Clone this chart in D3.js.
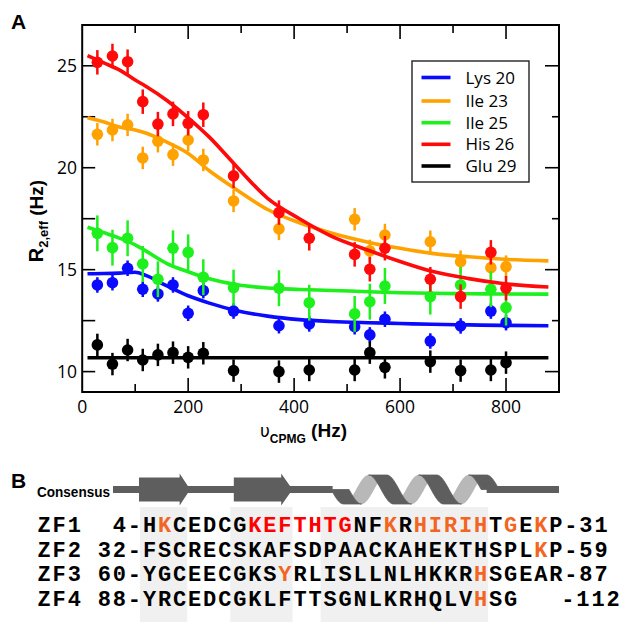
<!DOCTYPE html>
<html>
<head>
<meta charset="utf-8">
<script src="https://d3js.org/d3.v7.min.js"></script>
<style>
  body { margin: 0; background: #fff; }
  svg { display: block; }
</style>
</head>
<body>
<div id="fig"></div>
<script>

// CPMG frequencies (Hz)
var vcpmg = [28.6, 57.1, 85.7, 114.3, 142.9, 171.4, 200, 228.6, 285.7, 371.4,
  428.6, 514.3, 542.9, 571.4, 657.1, 714.3, 771.4, 800];

// measured R2,eff (Hz), null = no point
var lys20 = [14.25, 14.36, 15.07, 14.04, 13.81, 14.25, 12.86, 13.97, 12.97, 12.25,
  12.34, 12.2, 11.8, 12.57, 11.5, 12.24, 12.97, 12.4];
var ile23 = [21.64, 21.85, 22.1, 20.48, 21.3, 20.64, 21.36, 20.38, 18.37, 17.0,
  null, 17.47, 15.92, 16.7, 16.37, 15.39, 15.1, 15.15];
var ile25 = [16.78, 16.08, 16.54, 15.28, 14.53, 16.05, 15.85, 14.63, 14.12, 14.09,
  13.38, 12.83, 13.43, 14.2, 13.68, 14.25, 14.04, 13.14];
var his26 = [25.17, 25.48, 25.2, 23.24, 22.14, 22.64, 22.18, 22.6, 19.6, 17.8,
  16.54, 15.75, 15.02, 16.05, 14.53, 13.68, 15.85, 14.09];
var glu29 = [11.31, 10.37, 11.06, 10.57, 10.82, 10.93, 10.7, 10.9, 10.05, 10.0,
  10.08, 10.08, 10.93, 10.21, 10.49, 10.05, 10.08, 10.44];

// error bar half heights
var errs = [0.38, 0.55, 0.88, 0.6, 0.55];

// fitted curves
var fitHz = [10, 40, 70, 100, 120, 160, 200, 240, 290, 350, 410, 470, 540, 600, 660, 730, 790, 880];
var fitLys20 = [14.8, 14.81, 14.83, 14.87, 14.72, 14.2, 13.72, 13.36, 13.0, 12.72, 12.55, 12.46, 12.4, 12.36, 12.32, 12.29, 12.27, 12.25];
var fitIle23 = [22.45, 22.25, 22.0, 21.85, 21.7, 21.25, 20.7, 19.85, 18.95, 17.95, 17.3, 16.8, 16.35, 16.05, 15.8, 15.63, 15.52, 15.43];
var fitIle25 = [17.08, 16.82, 16.55, 16.22, 15.92, 15.3, 14.9, 14.55, 14.27, 14.1, 14.03, 13.98, 13.92, 13.87, 13.84, 13.82, 13.81, 13.8];
var fitHis26 = [25.5, 25.15, 24.8, 24.3, 24.0, 23.3, 22.45, 21.5, 20.1, 18.5, 17.5, 16.65, 15.95, 15.4, 14.92, 14.56, 14.33, 14.15];
var fitGlu29 = [10.68, 10.68, 10.68, 10.68, 10.68, 10.68, 10.68, 10.68, 10.68, 10.68, 10.68, 10.68, 10.68, 10.68, 10.68, 10.68, 10.68, 10.68];

var names = ["Lys 20", "Ile 23", "Ile 25", "His 26", "Glu 29"];
var colors = ["#0a0aff", "#ffa200", "#1ef01e", "#ff0a0a", "#000000"];

var xTicks = [0, 200, 400, 600, 800];
var xMinor = [100, 300, 500, 700];
var yTicks = [10, 15, 20, 25];
var yMinor = [12.5, 17.5, 22.5];

// panel B
var zfNames = ["ZF1", "ZF2", "ZF3", "ZF4"];
var zfStart = ["4", "32", "60", "88"];
var zfEnd = ["31", "59", "87", "112"];
var zfSeq = [
  "HKCEDCGKEFTHTGNFKRHIRIHTGEKP",
  "FSCRECSKAFSDPAACKAHEKTHSPLKP",
  "YGCEECGKSYRLISLLNLHKKRHSGEAR",
  "YRCEDCGKLFTTSGNLKRHQLVHSG"
];
var zfRed = [[7, 8, 9, 10, 11, 12, 13], [], [], []];
var zfOrange = [[1, 16, 18, 19, 20, 21, 22, 24, 26], [26], [9, 22], [22]];
var shadeCols = [[0, 2], [6, 9], [12, 22]];
var strands = [[-0.2, 2.5, 3.2], [6.1, 9.25, 10]];
var helixCols = [12, 22.9];

var width = 621;
var height = 622;

var svg = d3.select("#fig")
  .append("svg")
  .attr("width", width)
  .attr("height", height);

// plot box
var pLeft = 82.2, pRight = 559, pTop = 25, pBottom = 392;

var xScale = d3.scaleLinear().domain([0, 900]).range([pLeft, pRight]);
var yScale = d3.scaleLinear().domain([9, 27]).range([pBottom, pTop]);

var tickFont = "'Open Sans', 'Liberation Sans', sans-serif";
var boldFont = "'Liberation Sans', Arial, sans-serif";

// panel letters
svg.append("text").attr("x", 11).attr("y", 29)
  .attr("font-family", boldFont)
  .attr("font-weight", "bold").attr("font-size", 21).text("A");
svg.append("text").attr("x", 11).attr("y", 488)
  .attr("font-family", boldFont)
  .attr("font-weight", "bold").attr("font-size", 21).text("B");

// ticks (drawn inward on all four sides)
var tickG = svg.append("g").attr("stroke", "#000").attr("stroke-width", 1.6);
xTicks.concat(xMinor).forEach(function(v) {
  if (v === 0) return;
  var len = xTicks.indexOf(v) >= 0 ? 14 : 8;
  tickG.append("line").attr("x1", xScale(v)).attr("x2", xScale(v))
    .attr("y1", pBottom).attr("y2", pBottom - len);
  tickG.append("line").attr("x1", xScale(v)).attr("x2", xScale(v))
    .attr("y1", pTop).attr("y2", pTop + len);
});
yTicks.concat(yMinor).forEach(function(v) {
  var len = yTicks.indexOf(v) >= 0 ? 14 : 7;
  tickG.append("line").attr("x1", pLeft).attr("x2", pLeft + 13)
    .attr("y1", yScale(v)).attr("y2", yScale(v));
  tickG.append("line").attr("x1", pRight).attr("x2", pRight - len)
    .attr("y1", yScale(v)).attr("y2", yScale(v));
});

// tick labels
svg.append("g").selectAll("text").data(xTicks).enter()
  .append("text")
  .attr("x", function(d) { return xScale(d); })
  .attr("y", 413)
  .attr("text-anchor", "middle")
  .attr("font-family", tickFont).attr("font-size", 17.5)
  .text(function(d) { return d; });
svg.append("g").selectAll("text").data(yTicks).enter()
  .append("text")
  .attr("x", 77)
  .attr("y", function(d) { return yScale(d); })
  .attr("dy", "0.36em")
  .attr("text-anchor", "end")
  .attr("font-family", tickFont).attr("font-size", 17.5)
  .text(function(d) { return d; });

// axis titles
var yTitle = svg.append("text")
  .attr("transform", "translate(43,221) rotate(-90)")
  .attr("text-anchor", "middle")
  .attr("font-family", boldFont)
  .attr("font-weight", "bold");
yTitle.append("tspan").attr("font-size", 20).text("R");
yTitle.append("tspan").attr("font-size", 13).attr("dy", 5).text("2,eff");
yTitle.append("tspan").attr("font-size", 19).attr("dy", -5).text(" (Hz)");

var xTitle = svg.append("text")
  .attr("x", 260).attr("y", 437)
  .attr("font-family", boldFont);
xTitle.append("tspan").attr("font-size", 17).attr("font-family", "'DejaVu Sans', sans-serif").text("υ");
xTitle.append("tspan").attr("font-size", 12).attr("font-weight", "bold").attr("dy", 6).text("CPMG");
xTitle.append("tspan").attr("font-size", 19).attr("font-weight", "bold").attr("dy", -6).text(" (Hz)");

// data series
var series = [lys20, ile23, ile25, his26, glu29];
var fits = [fitLys20, fitIle23, fitIle25, fitHis26, fitGlu29];

var fitLine = d3.line()
  .x(function(d) { return xScale(d[0]); })
  .y(function(d) { return yScale(d[1]); })
  .curve(d3.curveMonotoneX);

var plotG = svg.append("g");

series.forEach(function(vals, s) {
  var pts = vals.map(function(v, i) { return [vcpmg[i], v]; })
    .filter(function(d) { return d[1] !== null; });

  plotG.append("path")
    .datum(fitHz.map(function(h, i) { return [h, fits[s][i]]; }))
    .attr("d", fitLine)
    .attr("fill", "none")
    .attr("stroke", colors[s])
    .attr("stroke-width", 3.6);

  var g = plotG.append("g");
  g.selectAll("line").data(pts).enter()
    .append("line")
    .attr("x1", function(d) { return xScale(d[0]); })
    .attr("x2", function(d) { return xScale(d[0]); })
    .attr("y1", function(d) { return yScale(d[1] - errs[s]); })
    .attr("y2", function(d) { return yScale(d[1] + errs[s]); })
    .attr("stroke", colors[s])
    .attr("stroke-width", 2.5);
  g.selectAll("circle").data(pts).enter()
    .append("circle")
    .attr("cx", function(d) { return xScale(d[0]); })
    .attr("cy", function(d) { return yScale(d[1]); })
    .attr("r", 5.8)
    .attr("fill", colors[s]);
});

// frame
svg.append("rect")
  .attr("x", pLeft).attr("y", pTop)
  .attr("width", pRight - pLeft).attr("height", pBottom - pTop)
  .attr("fill", "none").attr("stroke", "#000").attr("stroke-width", 2);

// legend
var legend = svg.append("g");
legend.append("rect")
  .attr("x", 412).attr("y", 61).attr("width", 117).attr("height", 121)
  .attr("fill", "#fff").attr("stroke", "#222").attr("stroke-width", 1.4);
var legY = [77.5, 101, 122.7, 144.3, 166];
names.forEach(function(n, i) {
  legend.append("line")
    .attr("x1", 421.5).attr("x2", 450.5)
    .attr("y1", legY[i]).attr("y2", legY[i])
    .attr("stroke", colors[i]).attr("stroke-width", 3.6);
  legend.append("text")
    .attr("x", 465.5).attr("y", legY[i]).attr("dy", "0.36em")
    .attr("font-family", tickFont).attr("font-size", 17)
    .text(n);
});

// panel B: residue columns
var colX = d3.scaleLinear().domain([0, 1]).range([142, 157.05]);
var rowY = d3.scaleLinear().domain([0, 3]).range([532, 605.5]);

// shaded columns
svg.append("g").selectAll("rect").data(shadeCols).enter()
  .append("rect")
  .attr("x", function(d) { return colX(d[0]) - 2; })
  .attr("y", 507)
  .attr("width", function(d) { return colX(d[1] + 1) - colX(d[0]) + 2; })
  .attr("height", height - 507)
  .attr("fill", "#f0f0f0");

// secondary structure track
var dark = "#5e5e5e", light = "#b8b8b8";
var mid = 489.5;
svg.append("text")
  .attr("x", 37).attr("y", 497)
  .attr("font-family", "'Liberation Sans Narrow', 'Liberation Sans', Arial, sans-serif")
  .attr("font-weight", "bold").attr("font-size", 15)
  .attr("textLength", 73).attr("lengthAdjust", "spacingAndGlyphs")
  .text("Consensus");

var helixX0 = colX(helixCols[0]);
var helixX1 = colX(helixCols[1]);
svg.append("rect").attr("x", 113).attr("y", mid - 3.5)
  .attr("width", helixX0 + 10 - 113).attr("height", 7).attr("fill", dark);
svg.append("rect").attr("x", helixX1).attr("y", mid - 3.5)
  .attr("width", 559 - helixX1).attr("height", 7).attr("fill", dark);

// strands as arrows
strands.forEach(function(s) {
  var a = colX(s[0]), b = colX(s[1]), c = colX(s[2]);
  svg.append("path")
    .attr("d", "M" + a + "," + (mid - 12) + "L" + b + "," + (mid - 12) +
      "L" + b + "," + (mid - 16) + "L" + c + "," + mid +
      "L" + b + "," + (mid + 16) + "L" + b + "," + (mid + 12) +
      "L" + a + "," + (mid + 12) + "Z")
    .attr("fill", dark);
});

// helix ribbon: sheared band following a cosine, back halves light
var period = 50, amp = 14.5, band = 18;
function helixBand(t0, t1) {
  var pts = d3.range(0, 25).map(function(j) {
    var t = t0 + (t1 - t0) * j / 24;
    return [helixX0 - 4 + period * t, mid - amp * Math.cos(2 * Math.PI * t)];
  });
  var back = pts.slice().reverse().map(function(p) { return [p[0] + band, p[1]]; });
  return "M" + pts.concat(back).map(function(p) { return p.join(","); }).join("L") + "Z";
}
[0.5, 1.5, 2.5].forEach(function(t) {
  svg.append("path").attr("d", helixBand(t, t + 0.5)).attr("fill", light);
});
[[0.25, 0.5], [1, 1.5], [2, 2.5], [3, 3.25]].forEach(function(t) {
  svg.append("path").attr("d", helixBand(t[0], t[1])).attr("fill", dark)
    .attr("stroke", dark).attr("stroke-width", 0.8);
});

// sequences, one glyph per column
var seqFont = "'Liberation Mono', 'DejaVu Sans Mono', monospace";
var seqG = svg.append("g")
  .attr("font-family", seqFont)
  .attr("font-weight", "bold")
  .attr("font-size", 22)
  .attr("text-anchor", "middle");

function putText(str, col0, row, color) {
  str.split("").forEach(function(ch, k) {
    if (ch === " ") return;
    seqG.append("text")
      .attr("x", colX(col0 + k + 0.5))
      .attr("y", rowY(row))
      .attr("fill", color)
      .text(ch);
  });
}

zfSeq.forEach(function(seq, r) {
  putText(zfNames[r], -7, r, "#000");
  putText(zfStart[r] + "-", -1 - zfStart[r].length, r, "#000");
  seq.split("").forEach(function(ch, k) {
    var color = "#000";
    if (zfRed[r].indexOf(k) >= 0) color = "#ff0000";
    if (zfOrange[r].indexOf(k) >= 0) color = "#f26522";
    putText(ch, k, r, color);
  });
  // the end number sits after the sequence, tighter for three digits
  var endCol = zfEnd[r].length > 2 ? 27.8 : 28;
  putText("-" + zfEnd[r], endCol, r, "#000");
});

</script>
</body>
</html>
